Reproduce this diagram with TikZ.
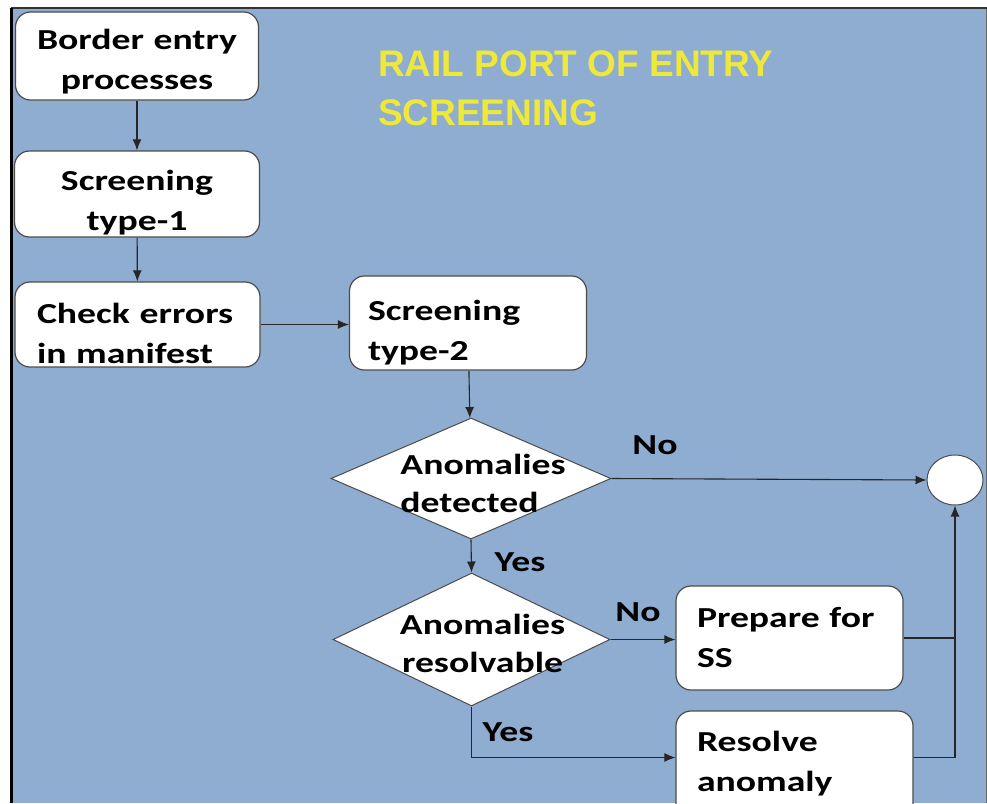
\documentclass[tikz,border=0pt]{standalone}
\usepackage{fontspec}
\setmainfont{Carlito}
\newfontfamily\boxfont[FakeStretch=1.3, WordSpace=0.7]{Carlito}
\newfontfamily\titlefont{Liberation Sans}
\usetikzlibrary{shapes.geometric}
\usetikzlibrary{arrows.meta}
\definecolor{panelblue}{RGB}{143,173,208}
\definecolor{titleyellow}{RGB}{238,232,58}
\tikzset{
  procbox/.style={draw=black!70, fill=white, rounded corners=15pt, line width=1.2pt, inner sep=0pt, align=left, font=\boxfont\bfseries\fontsize{29}{40}\selectfont},
  sink/.style={execute at begin node={\rule{0pt}{#1}}},
  lift/.style={execute at end node={\rule[-#1]{0pt}{#1}}},
  decision/.style={diamond, draw=black!70, fill=white, line width=1pt, inner sep=0pt},
  decisiontext/.style={font=\boxfont\bfseries\fontsize{29}{38}\selectfont, align=left},
  answer/.style={font=\boxfont\bfseries\fontsize{29}{32}\selectfont, inner sep=0pt},
  flow/.style={-{Latex[length=11pt,width=9pt]}, line width=1.1pt, black!85}
}

\begin{document}
\begin{tikzpicture}[x=1pt, y=-1pt]
\useasboundingbox (0,0) rectangle (987,803);
\fill[panelblue] (12,9) rectangle (987,803);
\draw[line width=2pt, black!80] (10.5,8) -- (987,8);
\draw[line width=3pt, black] (11.5,8) -- (11.5,803);
\draw[line width=1pt, black!60] (986.5,9) -- (986.5,803);

\node[anchor=north west, inner sep=0pt, align=left, text=titleyellow, font=\titlefont\bfseries\fontsize{37}{49}\selectfont] (title) at (378,50) {RAIL PORT OF ENTRY\\SCREENING};

\node[procbox, sink=32pt, text width=225pt, align=center, minimum width=243pt, minimum height=88pt] (border) at (137,56) {Border entry\\processes};
\node[procbox, sink=38pt, text width=225pt, align=center, minimum width=245pt, minimum height=86pt] (screen1) at (137,194) {Screening\\type-1};
\node[procbox, sink=38pt, text width=201pt, minimum width=245pt, minimum height=85pt] (manifest) at (137.5,324.5) {Check errors\\in manifest};
\node[procbox, sink=39pt, text width=200pt, minimum width=237pt, minimum height=94pt] (screen2) at (468,323) {Screening\\type-2};
\node[decision, minimum width=280pt, minimum height=121pt, label={[decisiontext, xshift=12pt, yshift=-5pt]center:Anomalies\\detected}] (detect) at (471,478.5) {};
\node[decision, minimum width=277pt, minimum height=133pt, label={[decisiontext, align=center, xshift=11pt, yshift=-4pt]center:Anomalies\\resolvable}] (resolvable) at (471.5,639.5) {};
\node[ellipse, draw=black!70, fill=white, line width=1pt, minimum width=56pt, minimum height=50pt] (finish) at (955,480) {};
\node[procbox, text width=185pt, minimum width=227pt, minimum height=104pt] (prepare) at (789.5,638) {Prepare for\\SS};
\node[procbox, lift=19pt, text width=195pt, minimum width=237pt, minimum height=119pt] (resolve) at (794.5,770.5) {Resolve\\anomaly};

\draw[flow] (border) -- (screen1);
\draw[flow] (screen1) -- (manifest);
\draw[flow] (manifest.east) -- (manifest.east -| screen2.west);
\draw[flow] (screen2) -- (detect);
\draw[flow] (detect.east) -- (finish.west);
\draw[flow] (detect.south) -- (resolvable.north);
\draw[flow] (resolvable.east) -- (prepare.west |- resolvable.east);
\draw[flow] (resolvable.south) |- ([yshift=13pt]resolve.west);
\draw[flow] ([yshift=13pt]resolve.east) -| (finish.south);
\draw[line width=1.1pt, black!85] (prepare.east) -- (prepare.east -| finish.south);

%%answers
\node[answer] (detect no) at (655,445) {No};
\node[answer] (detect yes) at (520,562) {Yes};
\node[answer] (resolvable no) at (638,612) {No};
\node[answer] (resolvable yes) at (508,732) {Yes};
\end{tikzpicture}
\end{document}
